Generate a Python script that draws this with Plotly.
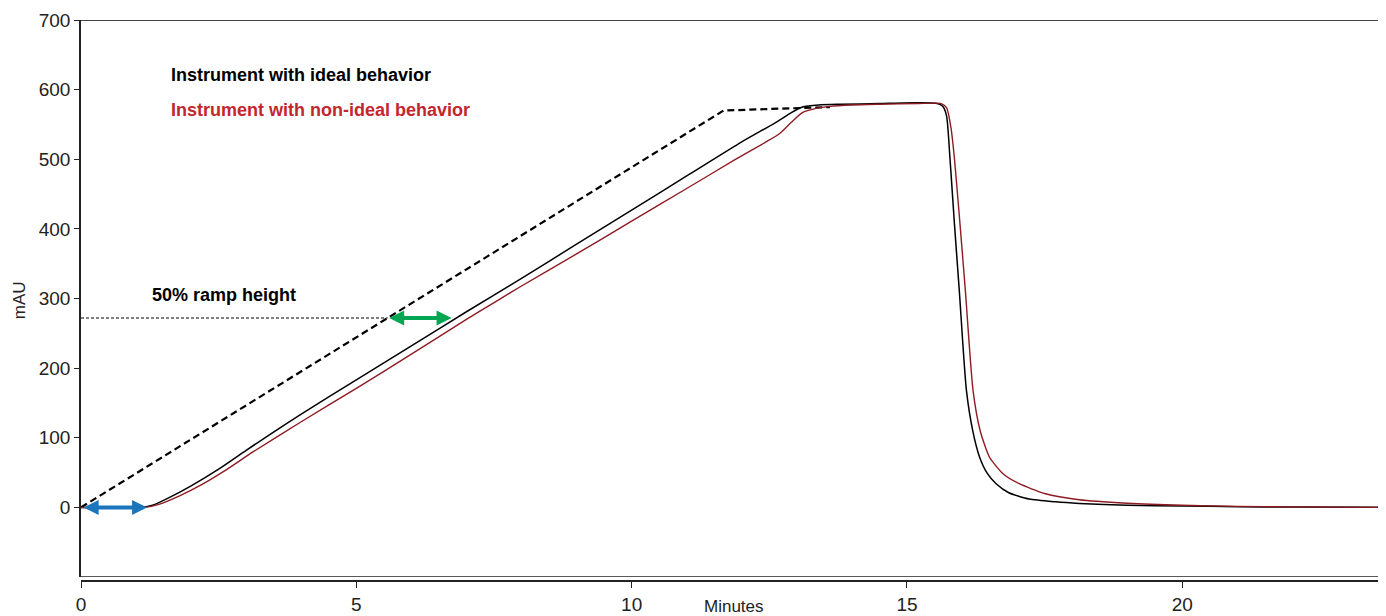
"""
Gradient delay chart: ideal vs non-ideal instrument ramp response
"""

import plotly.graph_objects as go

# programmed gradient (dashed)
gradient_t = [0, 11.67, 13.6]
gradient_mau = [0, 570, 575]

# instrument with ideal behavior (black)
ideal_t = [0, 1.1, 1.3, 1.6, 2.0, 2.5, 3.0, 4, 5, 6, 7, 8, 9, 10, 11, 12,
           12.6, 12.9, 13.1, 13.4, 13.8, 14.5, 15.2, 15.55, 15.65, 15.72,
           15.78, 15.86, 15.95, 16.08, 16.2, 16.32, 16.45, 16.62, 16.85,
           17.22, 17.7, 18.13, 19, 20, 21, 22, 23.7]
ideal_mau = [0, 0, 3, 14, 31, 55, 82, 134, 183, 232, 281, 329, 378, 427, 476,
             525, 552, 567, 575, 578, 579, 580, 581, 580, 576, 562,
             503, 410, 312, 168, 108, 72, 50, 34, 21,
             12, 8, 5.7, 3, 2, 1, 0.5, 0]

# instrument with non-ideal behavior (red)
nonideal_t = [0, 1.15, 1.4, 1.8, 2.2, 2.6, 3.13, 4, 5, 6, 7, 7.54, 8, 9, 10,
              11, 11.87, 12.4, 12.69, 12.9, 13.1, 13.35, 13.6, 14, 14.5, 15.2,
              15.62, 15.72, 15.8, 15.86, 15.95, 16.06, 16.2, 16.33, 16.5,
              16.75, 17.04, 17.5, 18.13, 19, 20, 21, 22, 23.7]
nonideal_mau = [0, 0, 4, 17, 33, 52, 80, 123, 171, 220, 270, 296, 318, 364,
                411, 458, 499, 523, 537, 553, 567, 573, 576, 578, 579, 580,
                580, 574, 545, 503, 420, 312, 168, 110, 72,
                48, 34, 20, 11, 6, 3, 1.5, 0.7, 0]

# 50% ramp height marker and delay arrows
half_height = 272
half_t_gradient = 5.57
half_t_ideal = 6.73
delay_start = 0.0
delay_end = 1.2

x_ticks = [0, 5, 10, 15, 20]
y_ticks = [0, 100, 200, 300, 400, 500, 600, 700]

TEXT = "#222222"
FONT = "Liberation Sans, Arial, sans-serif"

fig = go.Figure()

fig.add_trace(go.Scatter(
    x=gradient_t, y=gradient_mau, mode="lines",
    line=dict(color="black", width=2.2, dash="7px,4px"),
    hoverinfo="skip",
))
fig.add_trace(go.Scatter(
    x=[0, half_t_gradient], y=[half_height, half_height], mode="lines",
    line=dict(color="black", width=1, dash="3px,2px"),
    hoverinfo="skip",
))
fig.add_trace(go.Scatter(
    x=ideal_t, y=ideal_mau, mode="lines",
    line=dict(color="black", width=1.5, shape="spline", smoothing=0.6),
    name="Instrument with ideal behavior",
))
fig.add_trace(go.Scatter(
    x=nonideal_t, y=nonideal_mau, mode="lines",
    line=dict(color="#8E1B22", width=1.4, shape="spline", smoothing=0.6),
    name="Instrument with non-ideal behavior",
))

annotations = [
    dict(x=half_t_ideal, y=half_height, ax=half_t_gradient, ay=half_height,
         axref="x", ayref="y", xref="x", yref="y", text="", showarrow=True,
         arrowside="end+start", arrowhead=2, arrowsize=0.75, arrowwidth=4,
         arrowcolor="#00A651"),
    dict(x=delay_end, y=0, ax=delay_start + 0.02, ay=0,
         axref="x", ayref="y", xref="x", yref="y", text="", showarrow=True,
         arrowside="end+start", arrowhead=2, arrowsize=0.75, arrowwidth=4,
         arrowcolor="#1B75BC"),
    dict(x=1.6, y=621, xref="x", yref="y", xanchor="left", yanchor="middle",
         text="<b>Instrument with ideal behavior</b>", showarrow=False,
         font=dict(family=FONT, size=18, color="black")),
    dict(x=1.6, y=571, xref="x", yref="y", xanchor="left", yanchor="middle",
         text="<b>Instrument with non-ideal behavior</b>", showarrow=False,
         font=dict(family=FONT, size=18, color="#C4262E")),
    dict(x=1.25, y=305, xref="x", yref="y", xanchor="left", yanchor="middle",
         text="<b>50% ramp height</b>", showarrow=False,
         font=dict(family=FONT, size=18, color="black")),
    dict(x=0.5, y=-0.045, xref="paper", yref="paper", xanchor="center",
         yanchor="middle", text="Minutes", showarrow=False,
         font=dict(family=FONT, size=17, color=TEXT)),
    dict(x=-0.047, y=0.5, xref="paper", yref="paper", xanchor="center",
         yanchor="middle", text="mAU", showarrow=False, textangle=-90,
         font=dict(family=FONT, size=17, color=TEXT)),
]

# the page adds an 8px body margin, so the figure is 8px smaller and the
# left/top margins are reduced by the same amount
fig.update_layout(
    width=1378,
    height=608,
    margin=dict(l=73, r=0, t=12, b=35, pad=0),
    plot_bgcolor="white",
    paper_bgcolor="white",
    showlegend=False,
    font=dict(family=FONT, size=19, color=TEXT),
    annotations=annotations,
    shapes=[
        dict(type="line", xref="paper", yref="y", x0=0, x1=1, y0=-100, y1=-100,
             line=dict(color="#222222", width=1.5)),
        dict(type="line", xref="paper", yref="y", x0=0, x1=1, y0=700, y1=700,
             line=dict(color="#444444", width=2)),
    ],
    xaxis=dict(
        range=[0, 23.7], tickvals=x_ticks, showgrid=False, zeroline=False,
        showline=True, linecolor="#222222", linewidth=1.5,
        ticks="outside", ticklen=6, tickwidth=1.2, tickcolor="#222222",
        anchor="free", position=0,
    ),
    yaxis=dict(
        range=[-100, 700], domain=[0.0071, 1], tickvals=y_ticks,
        showgrid=False, zeroline=False, showline=True,
        linecolor="#222222", linewidth=1.5,
        ticks="outside", ticklen=5, tickwidth=1.2, tickcolor="#222222",
    ),
)

fig.write_html("out.html")
